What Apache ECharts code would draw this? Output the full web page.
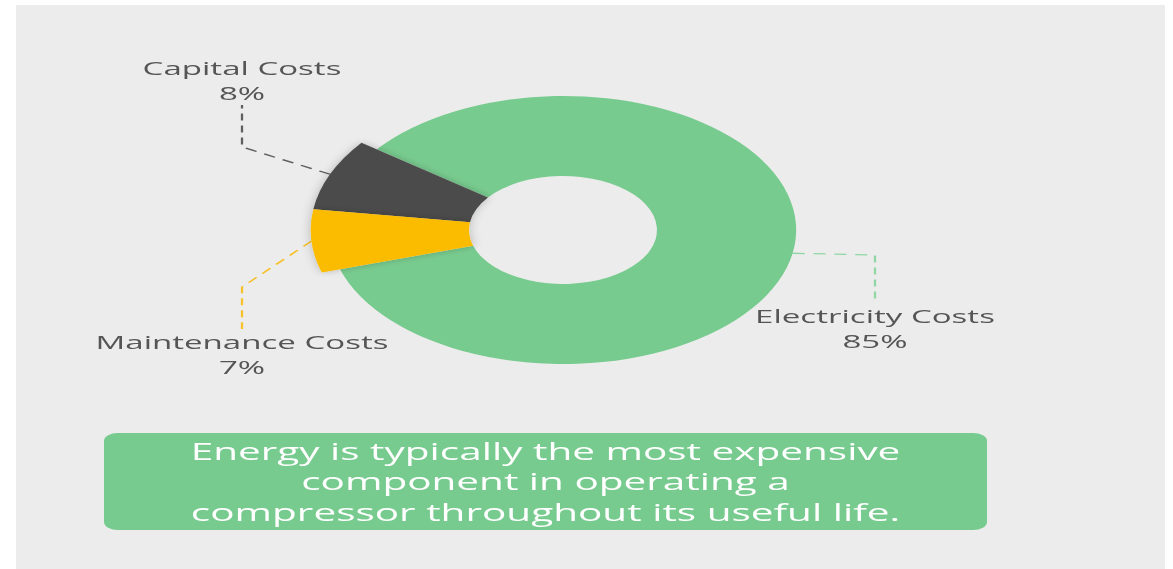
<!DOCTYPE html>
<html>
<head>
<meta charset="utf-8">
<title>Compressor lifecycle costs</title>
<script src="https://cdn.jsdelivr.net/npm/echarts@6/dist/echarts.min.js"></script>
<style>
  html, body { margin: 0; padding: 0; background: #ffffff; }
  #panel { position: absolute; left: 16px; top: 5px; width: 1149px; height: 564px; background: #ececec; }
  /* the source picture is stretched sideways, so the chart is drawn narrow and widened */
  #chart { position: absolute; left: 0; top: 0; width: 674px; height: 569px; transform: scaleX(1.74); transform-origin: 0 0; }
</style>
</head>
<body>
<div id="panel"></div>
<div id="chart"></div>
<script>
var categories = ["Capital Costs", "Maintenance Costs", "Electricity Costs"];
var shares = [8, 7, 85];
var sliceColors = ["#4b4b4b", "#fbbc00", "#78cb8f"];
var lineColors = ["#5e5e5e", "#f7c12b", "#8fd6a3"];
var noteLines = [
  "Energy is typically the most expensive",
  "component in operating a",
  "compressor throughout its useful life."
];

var STRETCH = 1.74;
// label centres in screen px
var labelSpots = [[242, 80], [242, 354], [875, 328]];

(function () {
  var FONT = "'Open Sans', sans-serif";

  function pieData(visible) {
    return categories.map(function (name, i) {
      var on = visible.indexOf(i) >= 0;
      return {
        name: name,
        value: shares[i],
        itemStyle: on
          ? { color: sliceColors[i], shadowBlur: visible.length > 1 ? 6 : 0, shadowColor: "rgba(0,0,0,0.22)" }
          : { color: "rgba(0,0,0,0)" },
        label: { show: on },
        labelLine: { show: on, lineStyle: { color: lineColors[i] } }
      };
    });
  }

  function placeLabel(p) {
    var s = labelSpots[p.dataIndex];
    return { x: s[0] / STRETCH, y: s[1], align: "center", verticalAlign: "middle" };
  }

  function pieSeries(visible, outer, len2) {
    return {
      type: "pie",
      center: [563 / STRETCH, 230],
      radius: [54, outer],
      startAngle: 143,
      clockwise: false,
      silent: true,
      label: {
        formatter: "{b}\n{c}%",
        fontFamily: FONT,
        fontSize: 19,
        lineHeight: 25,
        width: 175,
        overflow: "none",
        align: "center",
        color: "#555555"
      },
      labelLine: {
        length: 10,
        length2: len2,
        smooth: false,
        lineStyle: { width: 1.3, type: [7, 5] }
      },
      labelLayout: placeLabel,
      data: pieData(visible)
    };
  }

  var el = document.getElementById("chart");
  var chart = echarts.init(el, null, { renderer: "svg" });

  chart.setOption({
    backgroundColor: "transparent",
    animation: false,
    series: [
      pieSeries([2], 134, 48),
      pieSeries([0, 1], 145, 42)
    ],
    graphic: [
      {
        type: "rect",
        shape: { x: 104 / STRETCH, y: 433, width: (987 - 104) / STRETCH, height: 97, r: 8 },
        style: { fill: "#78cb8f" }
      },
      {
        type: "text",
        x: 545.5 / STRETCH,
        y: 481,
        scaleX: 0.97,
        style: {
          text: noteLines.join("\n"),
          fontFamily: FONT,
          fontSize: 24,
          lineHeight: 30.5,
          fill: "#ffffff",
          align: "center",
          verticalAlign: "middle"
        }
      }
    ]
  });
})();
</script>
</body>
</html>
